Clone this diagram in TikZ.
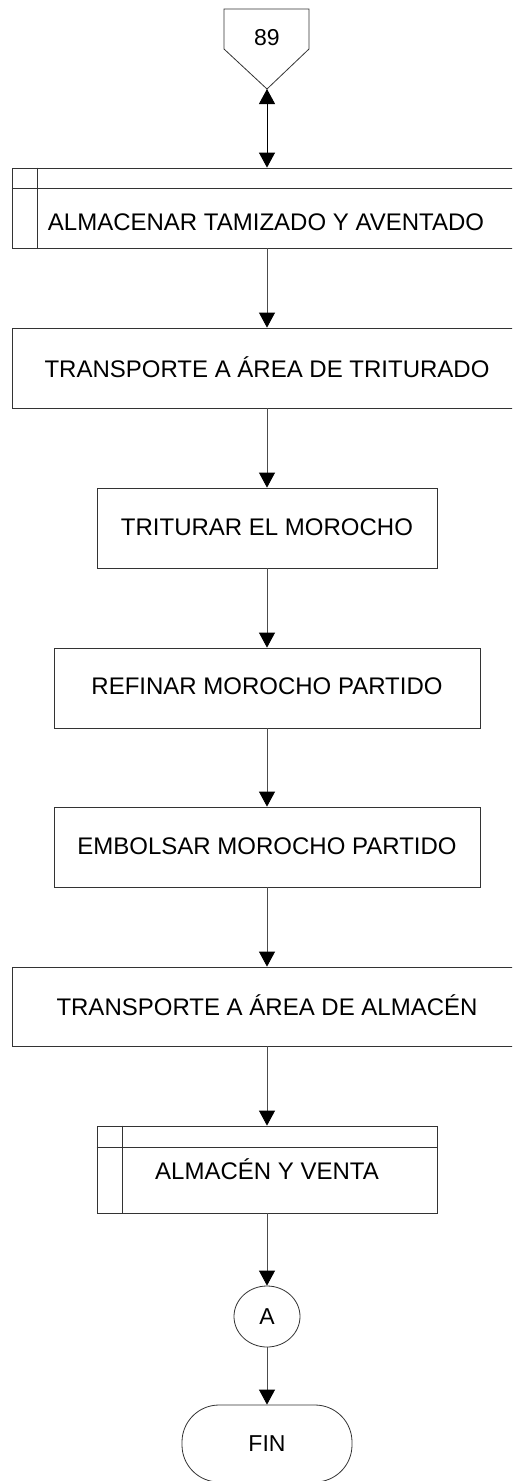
\documentclass[tikz,border=0pt]{standalone}
\usepackage{fontspec}
\setmainfont{Liberation Sans}
\usetikzlibrary{arrows.meta,shapes.geometric}
\begin{document}
\begin{tikzpicture}[x=1pt,y=-1pt,
  line width=0.8pt,
  box/.style={draw=black!80, line width=0.8pt, rectangle, inner sep=0pt},
  lbl/.style={font=\fontsize{24}{28}\selectfont, inner sep=0pt, text=black},
  slbl/.style={font=\fontsize{23}{27}\selectfont, inner sep=0pt, text=black},
  conn/.style={draw=black!70, line width=0.8pt, -{Triangle[length=15pt,width=16pt,color=black]}},
  bconn/.style={draw=black, line width=1pt, {Triangle[length=15pt,width=16pt,color=black]}-{Triangle[length=15pt,width=16pt,color=black]}}
]
\useasboundingbox (0,0) rectangle (512,1481);
\clip (0,0) rectangle (512,1481);
\fill[white] (0,0) rectangle (512,1481);

% off-page connector 89
\draw[draw=black!80, line width=0.8pt] (224,9) -- (309,9) -- (309,49) -- (267,89) -- (224,49) -- cycle;
\node[slbl] (n89) at (267,38) {89};
\coordinate (tip) at (267,89);

% storage box 1
\node[box, minimum width=510pt, minimum height=80pt] (s1) at (267,208) {};
\draw[draw=black!80] ([xshift=26pt]s1.north west) -- ([xshift=26pt]s1.south west);
\draw[draw=black!80] ([yshift=-21pt]s1.north west) -- ([yshift=-21pt]s1.north east);
\node[lbl] (t1) at (266,222) {ALMACENAR TAMIZADO Y AVENTADO};

\node[box, minimum width=510pt, minimum height=80pt] (b2) at (267,368) {};
\node[lbl] (t2) at (267,367) {TRANSPORTE A ÁREA DE TRITURADO};

\node[box, minimum width=340pt, minimum height=80pt] (b3) at (267,528) {};
\node[lbl] (t3) at (267,527) {TRITURAR EL MOROCHO};

\node[box, minimum width=426pt, minimum height=80pt] (b4) at (267,688) {};
\node[lbl] (t4) at (267,686) {REFINAR MOROCHO PARTIDO};

\node[box, minimum width=426pt, minimum height=80pt] (b5) at (267,847) {};
\node[lbl] (t5) at (267,846) {EMBOLSAR MOROCHO PARTIDO};

\node[box, minimum width=510pt, minimum height=79pt] (b6) at (267,1006.5) {};
\node[lbl] (t6) at (267,1005) {TRANSPORTE A ÁREA DE ALMACÉN};

% storage box 7
\node[box, minimum width=340pt, minimum height=87pt] (s7) at (267,1169.5) {};
\draw[draw=black!80] ([xshift=26pt]s7.north west) -- ([xshift=26pt]s7.south west);
\draw[draw=black!80] ([yshift=-22pt]s7.north west) -- ([yshift=-22pt]s7.north east);
\node[lbl] (t7) at (267,1169) {ALMACÉN Y VENTA};

\node[draw=black!80, ellipse, minimum width=66pt, minimum height=61pt, inner sep=0pt, slbl] (A) at (267,1316.5) {A};

\node[draw=black!80, rectangle, rounded corners=37pt, minimum width=170pt, minimum height=77pt, inner sep=0pt, slbl] (fin) at (267,1443.5) {FIN};

% connectors
\draw[bconn] (tip) -- (s1.north);
\draw[conn] (s1.south) -- (b2.north);
\draw[conn] (b2.south) -- (b3.north);
\draw[conn] (b3.south) -- (b4.north);
\draw[conn] (b4.south) -- (b5.north);
\draw[conn] (b5.south) -- (b6.north);
\draw[conn] (b6.south) -- (s7.north);
\draw[conn] (s7.south) -- (A.north);
\draw[conn] (A.south) -- (fin.north);
\end{tikzpicture}
\end{document}
